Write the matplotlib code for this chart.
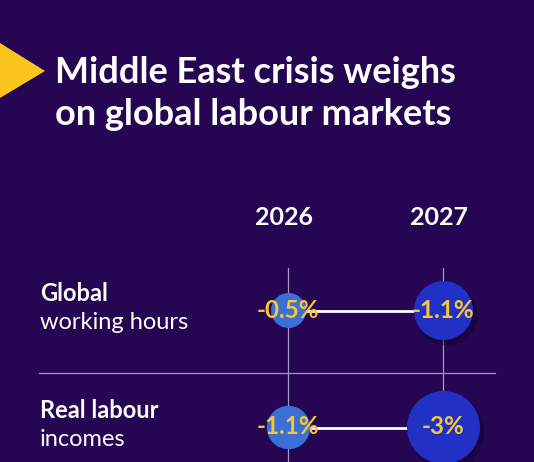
import numpy as np
import matplotlib
matplotlib.use("Agg")
import matplotlib.pyplot as plt
from matplotlib.patches import Polygon

# data
years = [2026, 2027]
row_bold = ["Global", "Real labour"]
row_light = ["working hours", "incomes"]
values = [[-0.5, -1.1],    # global working hours
          [-1.1, -3.0]]    # real labour incomes
value_labels = [["-0.5%", "-1.1%"],
                ["-1.1%", "-3%"]]
title_lines = ["Middle East crisis weighs", "on global labour markets"]

# style
W, H, DPI = 534, 462, 100
bg = "#260552"
yellow = "#F4C63A"
tri_yellow = "#FAC61E"
year_col = ["#3B6FD4", "#2131C6"]
grid_col = "#A596C8"
radii = [[17.5, 29.5], [21.7, 36.5]]   # circle radius in px
col_px = [288, 443]
row_px = [310, 427]
font = "Lato"

fig = plt.figure(figsize=(W / DPI, H / DPI), dpi=DPI, facecolor=bg)

# overlay in pixel coords for decoration
deco = fig.add_axes([0, 0, 1, 1])
deco.set_xlim(0, W)
deco.set_ylim(H, 0)
deco.axis("off")
deco.set_facecolor("none")

# chart axes: x = year, y = row index
ax = fig.add_axes([0, 0, 1, 1], zorder=2)
ax.patch.set_alpha(0)
ax.axis("off")
ppy = col_px[1] - col_px[0]
ppr = row_px[1] - row_px[0]
ax.set_xlim(years[0] - col_px[0] / ppy, years[0] + (W - col_px[0]) / ppy)
ax.set_ylim(len(values) - 1 + (H - row_px[1]) / ppr, -row_px[0] / ppr)

# yellow arrow head on the left
deco.add_patch(Polygon([[0, 43], [45, 71], [0, 98]], closed=True, color=tri_yellow, lw=0))

for k, line in enumerate(title_lines):
    deco.text(55, 83 + 42 * k, line, color="white", fontsize=26, fontweight="bold",
              family=font, ha="left", va="baseline")

# year headers
for j, yr in enumerate(years):
    ax.text(yr - 0.025, -0.79, str(yr), color="white", fontsize=18, fontweight="bold",
            family=font, ha="center", va="center")

# grid lines
for j, yr in enumerate(years):
    ax.plot([yr, yr], [-0.36, 1.5], color=grid_col, lw=0.9, zorder=1)
sep_y = 0.535
ax.plot([years[0] - (col_px[0] - 39) / ppy, years[0] + (495 - col_px[0]) / ppy],
        [sep_y, sep_y], color=grid_col, lw=0.9, zorder=1)

# rows
for i in range(len(values)):
    ax.text(years[0] - (col_px[0] - 40) / ppy, i - 0.145, row_bold[i], color="white",
            fontsize=17, fontweight="bold", family=font, ha="left", va="center")
    ax.text(years[0] - (col_px[0] - 40) / ppy, i + 0.11, row_light[i], color="white",
            fontsize=17, family=font, ha="left", va="center")
    ax.plot(years, [i + 0.01, i + 0.01], color="white", lw=2, zorder=2, solid_capstyle="butt")
    for j, yr in enumerate(years):
        r_pt = radii[i][j] * 72 / DPI
        if j == 1:
            ax.scatter([yr + 3 / ppy], [i + 4 / ppr], s=(2 * r_pt + 2) ** 2,
                       color="#12022e", alpha=0.45, lw=0, zorder=2.5)
        ax.scatter([yr], [i], s=(2 * r_pt) ** 2, color=year_col[j], lw=0, zorder=3)
        ax.text(yr, i, value_labels[i][j], color=yellow, fontsize=17.5, fontweight="bold",
                family=font, ha="center", va="center", zorder=4)

fig.savefig("out.png", dpi=DPI, facecolor=bg)
